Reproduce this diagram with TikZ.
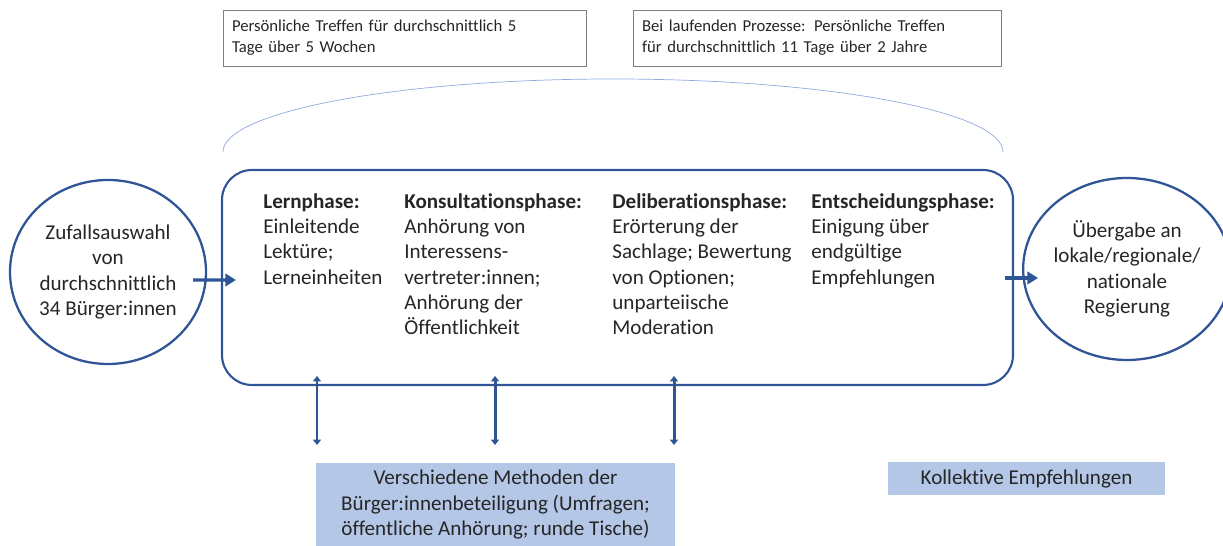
\documentclass[tikz,border=0pt]{standalone}
\usepackage{fontspec}
\setmainfont{Carlito}[Ligatures={NoCommon}]
\usetikzlibrary{arrows.meta,shapes.geometric}
\definecolor{rahmenblau}{HTML}{2F5597}
\definecolor{bogenblau}{HTML}{8FAADC}
\definecolor{kastenblau}{HTML}{B4C7E7}
\definecolor{textgrau}{HTML}{262626}

\begin{document}
\begin{tikzpicture}[
    every node/.style={font=\fontsize{12}{14.4}\selectfont, text=textgrau},
    kreis/.style={draw=rahmenblau, line width=1.3pt, ellipse, align=center, inner sep=0pt},
    notiz/.style={draw=gray, thin, align=left, inner xsep=0.18cm, font=\fontsize{9.5}{12}\selectfont},
    phase/.style={anchor=north west, align=left, inner sep=0pt},
    hinweis/.style={fill=kastenblau, align=center, inner ysep=1pt},
    pfeil/.style={rahmenblau, line width=1.8pt, -{Triangle[length=6pt,width=7pt]}},
    doppelpfeil/.style={rahmenblau, line width=1.7pt, {Triangle[length=3pt,width=4.5pt]}-{Triangle[length=3pt,width=4.5pt]}}]
    \useasboundingbox (0,0) rectangle (24.46,10.92);
    % Zeitangaben oben
    \node[notiz, minimum width=7.26cm, minimum height=1.12cm, text width=6.9cm] (treffen-kurz) at (8.09,10.16)
        {Persönliche Treffen für durchschnittlich 5\\Tage über 5 Wochen};
    \node[notiz, minimum width=7.36cm, minimum height=1.12cm, text width=7.0cm] (treffen-lang) at (16.34,10.16)
        {Bei laufenden Prozesse: Persönliche Treffen\\für durchschnittlich 11 Tage über 2 Jahre};
    \draw[bogenblau, thin] (4.46,7.88) arc[start angle=180, end angle=0, x radius=7.8cm, y radius=1.46cm];
    % Ablauf
    \node[draw=rahmenblau, line width=1.2pt, rounded corners=0.6cm, minimum width=15.82cm, minimum height=4.30cm] (prozess) at (12.35,5.37) {};
    \node[kreis, minimum width=3.92cm, minimum height=3.68cm] (zufall) at (2.16,5.48)
        {Zufallsauswahl\\von\\durchschnittlich\\34 Bürger:innen};
    \node[kreis, minimum width=3.80cm, minimum height=3.64cm] (regierung) at (22.54,5.54)
        {Übergabe an\\lokale/regionale/\\nationale\\Regierung};
    \node[phase] (lern) at (5.26,7.06) {\textbf{Lernphase:}\\Einleitende\\Lektüre;\\Lerneinheiten};
    \node[phase] (konsultation) at (8.08,7.06) {\textbf{Konsultationsphase:}\\Anhörung von\\Interessens-\\vertreter:innen;\\Anhörung der\\Öffentlichkeit};
    \node[phase] (deliberation) at (12.24,7.06) {\textbf{Deliberationsphase:}\\Erörterung der\\Sachlage; Bewertung\\von Optionen;\\unparteiische\\Moderation};
    \node[phase] (entscheidung) at (16.22,7.06) {\textbf{Entscheidungsphase:}\\Einigung über\\endgültige\\Empfehlungen};
    \draw[pfeil] ([shift={(-0.28,-0.16)}]zufall.east) -- ([shift={(0.3,-0.05)}]prozess.west);
    \draw[pfeil] ([shift={(-0.18,-0.01)}]prozess.east) -- ([shift={(0.32,-0.18)}]regierung.west);
    % Beteiligung
    \foreach \x [count=\i] in {6.34,9.90,13.48} {
        \coordinate (oben-\i) at (\x,3.40);
        \coordinate (unten-\i) at (\x,2.02);
        \draw[doppelpfeil] (oben-\i) -- (unten-\i);
    }
    \node[hinweis, minimum width=7.18cm, minimum height=1.66cm] (methoden) at (9.91,0.83)
        {Verschiedene Methoden der\\Bürger:innenbeteiligung (Umfragen;\\öffentliche Anhörung; runde Tische)};
    \node[hinweis, minimum width=5.54cm, minimum height=0.66cm] (empfehlungen) at (20.53,1.35) {Kollektive Empfehlungen};
\end{tikzpicture}
\end{document}
